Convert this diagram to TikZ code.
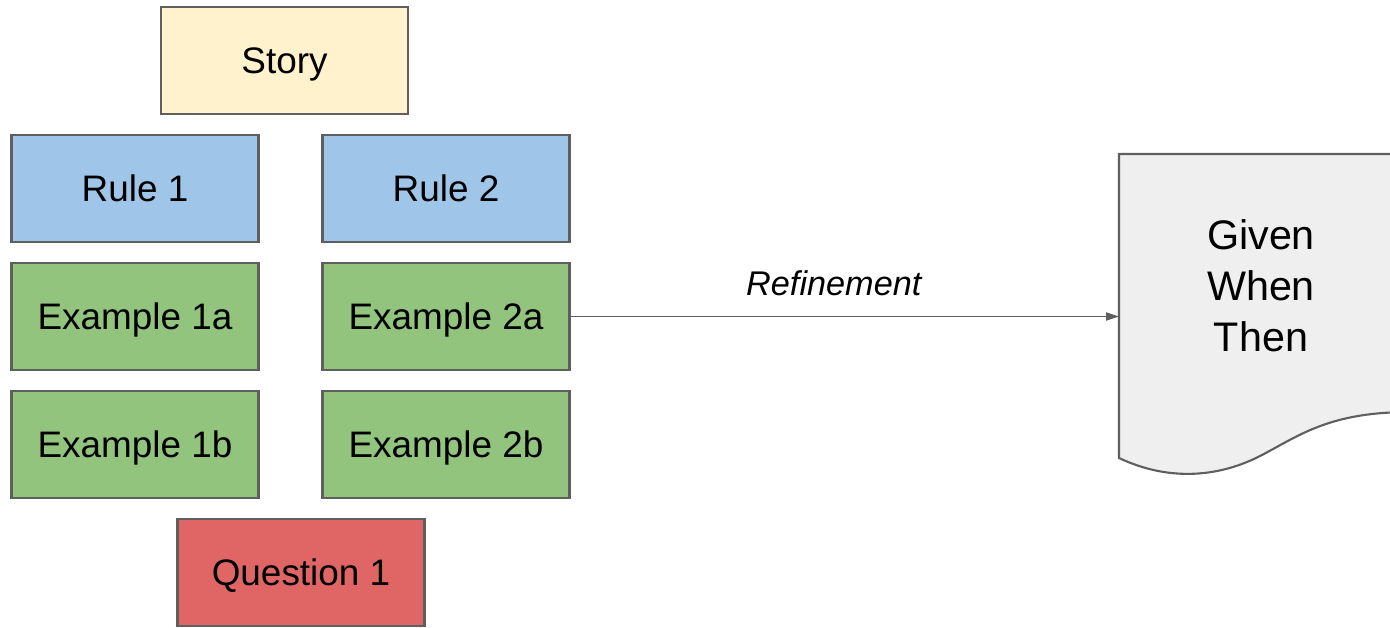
\documentclass[tikz,border=0pt]{standalone}
\usepackage{fontspec}
\setmainfont{Liberation Sans}
\usepackage{tikz}
\usetikzlibrary{arrows.meta}
\definecolor{edgegray}{HTML}{5F5F5F}
\definecolor{storyfill}{HTML}{FFF2CC}
\definecolor{rulefill}{HTML}{9FC5E8}
\definecolor{examplefill}{HTML}{93C47D}
\definecolor{questionfill}{HTML}{E06666}
\definecolor{docfill}{HTML}{EFEFEF}

\begin{document}
\begin{tikzpicture}[x=0.02cm, y=-0.02cm, every node/.style={font=\fontsize{21}{25}\selectfont},
	card/.style={draw=edgegray, line width=1.2pt, minimum width=4.94cm, minimum height=2.14cm, inner sep=0pt, text height=15pt, text depth=0pt}]
	\useasboundingbox (0,0) rectangle (1390,627);
	\node[card, fill=storyfill] (story) at (284.5,60.5) {Story};
	\foreach \i/\x in {1/135,2/446} {
		\node[card, fill=rulefill] (rule\i) at (\x,188.5) {Rule \i};
		\node[card, fill=examplefill] (ex\i-a) at (\x,316.5) {Example \i a};
		\node[card, fill=examplefill] (ex\i-b) at (\x,444.5) {Example \i b};
	}
	\node[card, fill=questionfill] (question) at (301,572.5) {Question 1};
	\begin{scope}
		\clip (0,0) rectangle (1390,627);
		\draw[edgegray, line width=1.2pt, fill=docfill] (1119,154) -- (1410,154) -- (1410,412) .. controls (1330,412) and (1300,435) .. (1262,455) .. controls (1220,477) and (1170,482) .. (1119,458) -- cycle;
	\end{scope}
	\node[font=\fontsize{23.5}{29}\selectfont, align=center] (gwt) at (1261,286) {Given\\When\\Then};
	\coordinate (docin) at (1119,316.5);
	\draw[edgegray, line width=1pt, -{Triangle[length=7.4pt,width=4.6pt]}] (ex2-a) -- (docin)
		node[pos=0.48, above=8pt, font=\fontsize{19.5}{23}\selectfont\itshape, text=black] {Refinement};
\end{tikzpicture}
\end{document}
